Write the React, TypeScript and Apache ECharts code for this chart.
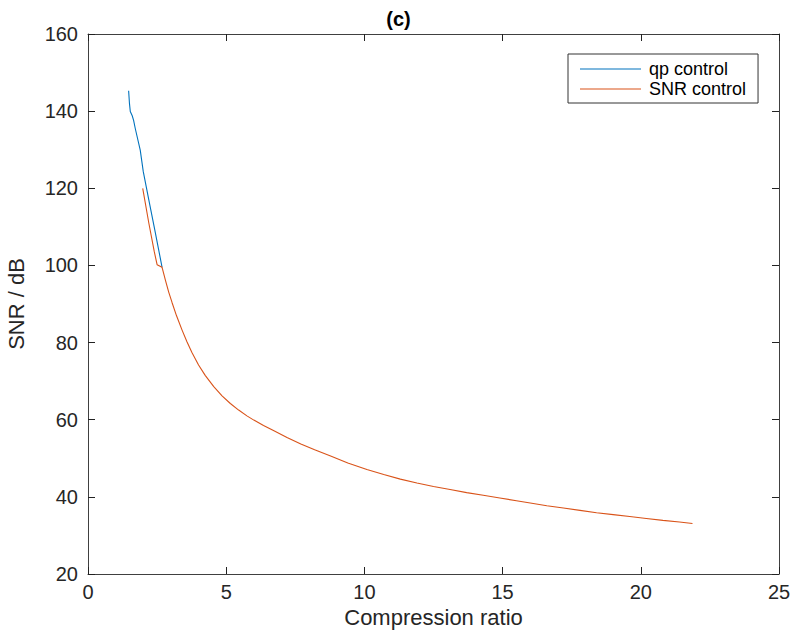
import React, { useEffect, useRef } from "react";
import * as echarts from "echarts";

const chartTitle = "(c)";
const xTicks = [0, 5, 10, 15, 20, 25];
const yTicks = [20, 40, 60, 80, 100, 120, 140, 160];
const seriesNames = ["qp control", "SNR control"];

const qpControl: [number, number][] = [
  [1.47, 145.3], [1.5, 142.0], [1.53, 139.9], [1.6, 138.8], [1.65, 137.6],
  [1.71, 135.5], [1.89, 129.9], [2.0, 124.3], [2.2, 117.0], [2.4, 109.8],
  [2.55, 104.3], [2.68, 99.5],
];

const snrControl: [number, number][] = [
  [1.98, 120.0], [2.2, 111.0], [2.4, 103.5], [2.5, 100.2], [2.68, 99.5],
  [2.8, 96.2], [2.92, 93.1], [3.04, 90.4], [3.2, 87.0], [3.4, 83.3],
  [3.58, 80.2], [3.76, 77.4], [4.0, 74.2], [4.24, 71.5], [4.55, 68.6],
  [4.85, 66.2], [5.15, 64.2], [5.45, 62.5], [5.75, 61.0], [6.0, 59.9],
  [6.35, 58.5], [6.71, 57.2], [7.2, 55.4], [7.7, 53.7], [8.2, 52.2],
  [8.8, 50.5], [9.4, 48.8], [10.09, 47.1], [10.7, 45.8], [11.3, 44.6],
  [11.9, 43.6], [12.5, 42.7], [13.1, 41.9], [13.7, 41.1], [14.3, 40.4],
  [14.9, 39.7], [15.5, 39.0], [16.0, 38.4], [16.6, 37.7], [17.2, 37.1],
  [17.8, 36.5], [18.4, 35.9], [19.0, 35.4], [19.6, 34.9], [20.2, 34.4],
  [20.8, 33.9], [21.4, 33.5], [21.87, 33.1],
];

const FONT = "'Liberation Sans', Arial, Helvetica, sans-serif";
const AXIS_COLOR = "#404040";
const TEXT_COLOR = "#262626";

export default function App() {
  const ref = useRef<HTMLDivElement>(null);
  useEffect(() => {
    if (!ref.current) return;
    const chart = echarts.init(ref.current, undefined, { renderer: "svg" });
    const xMin = xTicks[0];
    const xMax = xTicks[xTicks.length - 1];
    const xInt = xTicks[1] - xTicks[0];
    const yMin = yTicks[0];
    const yMax = yTicks[yTicks.length - 1];
    const yInt = yTicks[1] - yTicks[0];
    const axisCommon = {
      type: "value" as const,
      splitLine: { show: false },
      axisLine: { show: true, onZero: false, lineStyle: { color: AXIS_COLOR, width: 1 } },
      axisTick: { show: true, inside: true, length: 7, lineStyle: { color: "#222", width: 1 } },
    };
    chart.setOption({
      animation: false,
      backgroundColor: "#ffffff",
      textStyle: { fontFamily: FONT },
      title: {
        text: chartTitle,
        left: "center",
        top: 4,
        textStyle: { fontFamily: FONT, fontSize: 20, fontWeight: "bold", color: "#000" },
      },
      legend: {
        left: 568,
        top: 54,
        orient: "vertical",
        data: seriesNames,
        icon: "rect",
        itemWidth: 61,
        itemHeight: 1.2,
        itemGap: 2,
        padding: [6, 12, 5, 12],
        borderColor: "#333",
        borderWidth: 1,
        backgroundColor: "#fff",
        textStyle: { fontFamily: FONT, fontSize: 18, color: "#000", padding: [0, 0, 0, 3] },
      },
      grid: {
        left: 88,
        right: 18,
        top: 34,
        bottom: 63,
        containLabel: false,
        outerBoundsMode: "none",
      },
      xAxis: [
        {
          ...axisCommon,
          position: "bottom",
          min: xMin,
          max: xMax,
          interval: xInt,
          name: "Compression ratio",
          nameLocation: "middle",
          nameGap: 31,
          nameTextStyle: { fontFamily: FONT, fontSize: 22, color: TEXT_COLOR },
          axisLabel: { fontFamily: FONT, fontSize: 20, color: TEXT_COLOR, margin: 8 },
        },
        {
          ...axisCommon,
          position: "top",
          min: xMin,
          max: xMax,
          interval: xInt,
          axisLabel: { show: false },
        },
      ],
      yAxis: [
        {
          ...axisCommon,
          position: "left",
          min: yMin,
          max: yMax,
          interval: yInt,
          name: "SNR / dB",
          nameLocation: "middle",
          nameGap: 61,
          nameTextStyle: { fontFamily: FONT, fontSize: 22, color: TEXT_COLOR },
          axisLabel: { fontFamily: FONT, fontSize: 20, color: TEXT_COLOR, margin: 10 },
        },
        {
          ...axisCommon,
          position: "right",
          min: yMin,
          max: yMax,
          interval: yInt,
          axisLabel: { show: false },
        },
      ],
      series: [
        {
          name: seriesNames[0],
          type: "line",
          data: qpControl,
          showSymbol: false,
          symbol: "none",
          lineStyle: { color: "#0072BD", width: 1.1 },
          itemStyle: { color: "#0072BD" },
          z: 2,
        },
        {
          name: seriesNames[1],
          type: "line",
          data: snrControl,
          showSymbol: false,
          symbol: "none",
          lineStyle: { color: "#D95319", width: 1.1 },
          itemStyle: { color: "#D95319" },
          z: 3,
        },
      ],
    });
    return () => chart.dispose();
  }, []);
  return <div ref={ref} style={{ width: 797, height: 637, position: "absolute", left: 0, top: 0 }} />;
}
